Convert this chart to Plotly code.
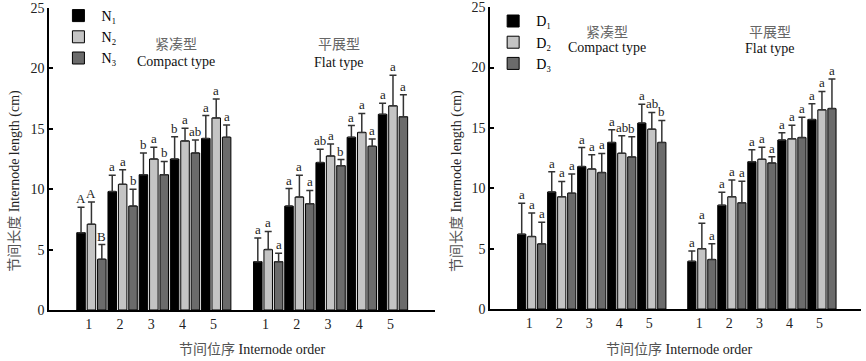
import plotly.graph_objects as go

# ---------------- data ----------------
orders = ["1", "2", "3", "4", "5"]
groups_cn = ["紧凑型", "平展型"]
groups_en = ["Compact type", "Flat type"]

# Left panel (N treatments): compact orders 1-5 then flat orders 1-5
N1_mean = [6.4, 9.8, 11.2, 12.5, 14.2, 4.0, 8.6, 12.2, 14.3, 16.2]
N2_mean = [7.1, 10.4, 12.5, 14.0, 15.9, 5.0, 9.35, 12.75, 14.7, 16.9]
N3_mean = [4.2, 8.6, 11.2, 13.0, 14.3, 4.0, 8.8, 11.95, 13.55, 16.0]
N1_err = [2.1, 1.35, 1.8, 1.85, 1.9, 1.95, 1.45, 1.1, 0.97, 0.91]
N2_err = [1.85, 1.2, 0.97, 1.05, 1.57, 1.5, 1.8, 1.0, 1.57, 2.54]
N3_err = [1.22, 1.4, 1.1, 1.08, 1.02, 0.7, 1.1, 0.5, 0.6, 1.82]
N1_sig = ["A", "a", "b", "b", "a", "a", "a", "ab", "a", "a"]
N2_sig = ["A", "a", "a", "a", "a", "a", "a", "a", "a", "a"]
N3_sig = ["B", "b", "b", "ab", "a", "a", "a", "b", "a", "a"]

# Right panel (D treatments)
D1_mean = [6.2, 9.7, 11.8, 13.8, 15.4, 3.95, 8.6, 12.2, 14.0, 15.7]
D2_mean = [6.0, 9.3, 11.6, 12.9, 14.9, 5.0, 9.3, 12.4, 14.1, 16.5]
D3_mean = [5.4, 9.6, 11.3, 12.6, 13.8, 4.1, 8.8, 12.1, 14.2, 16.6]
D1_err = [2.56, 1.68, 1.57, 1.05, 1.57, 0.85, 1.08, 1.0, 0.61, 1.3]
D2_err = [1.96, 1.27, 1.18, 1.46, 1.38, 2.1, 1.38, 0.99, 1.13, 1.52]
D3_err = [1.79, 1.59, 1.59, 1.68, 1.82, 1.3, 1.78, 0.52, 1.68, 2.45]
D1_sig = ["a", "a", "a", "a", "a", "a", "a", "a", "a", "a"]
D2_sig = ["a", "a", "a", "ab", "ab", "a", "a", "a", "a", "a"]
D3_sig = ["a", "a", "a", "b", "b", "a", "a", "a", "a", "a"]

y_ticks = [0, 5, 10, 15, 20, 25]
subs = ["₁", "₂", "₃"]

# ---------------- style ----------------
FONT = "Liberation Serif, 'Times New Roman', 'Noto Sans CJK SC', serif"
colors = ["#000000", "#c4c4c4", "#6b6b6b"]


def positions(t):
    # bar slot index: 3 bars per order, 2 empty slots between groups
    xs = []
    for g in range(2):
        for k in range(5):
            xs.append(g * 17 + 3 * k + t)
    return xs


fig = go.Figure()

panels = [
    ("x", "y", "legend", "N", [N1_mean, N2_mean, N3_mean], [N1_err, N2_err, N3_err], [N1_sig, N2_sig, N3_sig]),
    ("x2", "y2", "legend2", "D", [D1_mean, D2_mean, D3_mean], [D1_err, D2_err, D3_err], [D1_sig, D2_sig, D3_sig]),
]

annotations = []
for xa, ya, lg, letter, means, errs, sigs in panels:
    for t in range(3):
        xs = positions(t)
        fig.add_trace(go.Bar(
            x=xs, y=means[t], xaxis=xa, yaxis=ya, legend=lg,
            name=f"{letter}{subs[t]}",
            width=0.82,
            marker=dict(color=colors[t], line=dict(color="#000000", width=1)),
            error_y=dict(type="data", array=errs[t], arrayminus=[0] * len(errs[t]),
                         symmetric=False, color="#333333", thickness=1.5, width=3.5),
        ))
        for xv, m, e, s in zip(xs, means[t], errs[t], sigs[t]):
            annotations.append(dict(
                x=xv, y=m + e, xref=xa, yref=ya, text=s, showarrow=False,
                yanchor="bottom", yshift=-1, font=dict(family=FONT, size=13, color="#222"),
            ))

tickvals = [g * 17 + 3 * k + 0.75 for g in range(2) for k in range(5)]
ticktext = orders + orders

common_x = dict(showline=True, linecolor="#000", linewidth=1.5, ticks="", showgrid=False,
                zeroline=False, tickvals=tickvals, ticktext=ticktext, automargin=False,
                tickfont=dict(family=FONT, size=14, color="#222"))
common_y = dict(showline=True, linecolor="#000", linewidth=1.5, ticks="inside", ticklen=4,
                tickwidth=1.5, tickcolor="#000", showgrid=False, zeroline=False,
                range=[0, 25], tickvals=y_ticks, automargin=False,
                tickfont=dict(family=FONT, size=14, color="#222"))

fig.update_layout(
    width=866, height=361, margin=dict(l=0, r=0, t=0, b=0, autoexpand=False),
    plot_bgcolor="white", paper_bgcolor="white", barmode="overlay",
    xaxis=dict(domain=[0.0566, 0.5023], range=[-3.08, 34.04], anchor="y", **common_x),
    yaxis=dict(domain=[0.1413, 0.9778], anchor="x", **common_y),
    xaxis2=dict(domain=[0.5658, 0.9942], range=[-3.17, 33.9], anchor="y2", **common_x),
    yaxis2=dict(domain=[0.144, 0.98], anchor="x2", **common_y),
    legend=dict(x=0.064, y=1.0, xanchor="left", yanchor="top", bgcolor="rgba(0,0,0,0)",
                font=dict(family=FONT, size=14, color="#000"), tracegroupgap=0,
                itemwidth=36),
    legend2=dict(x=0.566, y=0.985, xanchor="left", yanchor="top", bgcolor="rgba(0,0,0,0)",
                 font=dict(family=FONT, size=14, color="#000"), tracegroupgap=0,
                 itemwidth=36),
    showlegend=True,
)

# group titles
group_pos = [("x", 9.1, 0.878, 0.831), ("x", 24.8, 0.878, 0.828),
             ("x2", 8.5, 0.911, 0.869), ("x2", 24.8, 0.911, 0.867)]
for i, (xa, xv, ycn, yen) in enumerate(group_pos):
    annotations.append(dict(x=xv, y=ycn, xref=xa, yref="paper", text=groups_cn[i % 2], showarrow=False,
                            xanchor="center", yanchor="middle",
                            font=dict(family=FONT, size=14, color="#666")))
    annotations.append(dict(x=xv, y=yen, xref=xa, yref="paper", text=groups_en[i % 2], showarrow=False,
                            xanchor="center", yanchor="middle",
                            font=dict(family=FONT, size=14, color="#111")))

# axis titles
for xp, yp in [(0.0165, 0.5), (0.527, 0.5)]:
    annotations.append(dict(x=xp, y=yp, xref="paper", yref="paper",
                            text="<span style='color:#555'>节间长度</span> Internode length (cm)",
                            xanchor="center", yanchor="middle",
                            textangle=-90, showarrow=False, font=dict(family=FONT, size=14, color="#222")))
for xp in [0.291, 0.785]:
    annotations.append(dict(x=xp, y=0.033, xref="paper", yref="paper",
                            text="<span style='color:#555'>节间位序</span> Internode order",
                            xanchor="center", yanchor="middle",
                            showarrow=False, font=dict(family=FONT, size=14, color="#222")))

fig.update_layout(annotations=annotations)
fig.write_html("out.html", config={"displayModeBar": False},
               post_script="document.body.style.margin='0';")
